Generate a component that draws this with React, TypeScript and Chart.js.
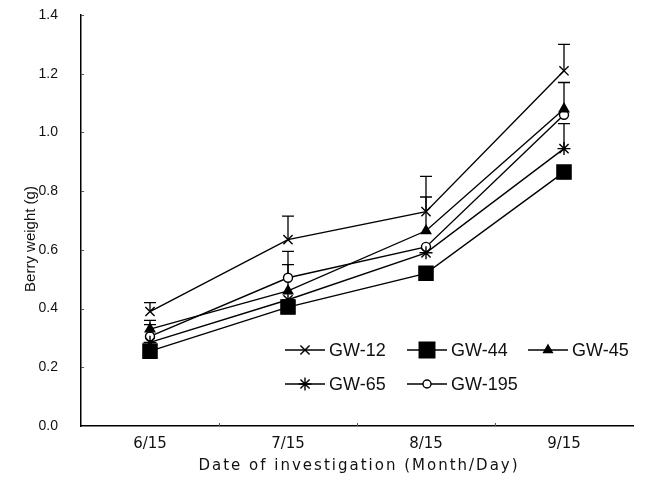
import React, { useEffect, useRef } from 'react';
import { Chart, registerables } from 'chart.js';
import { drawPoint } from 'chart.js/helpers';

Chart.register(...registerables);

// ---- data ----
const dates = ['6/15', '7/15', '8/15', '9/15'];
const seriesNames = ['GW-12', 'GW-44', 'GW-45', 'GW-65', 'GW-195'];

const gw12 = [0.39, 0.635, 0.73, 1.21];
const gw44 = [0.255, 0.405, 0.52, 0.865];
const gw45 = [0.33, 0.46, 0.665, 1.08];
const gw65 = [0.285, 0.43, 0.59, 0.945];
const gw195 = [0.305, 0.505, 0.61, 1.06];

// upper error bars (SE)
const gw12Err = [0.03, 0.08, 0.12, 0.09];
const gw44Err = [0, 0, 0, 0];
const gw45Err = [0.03, 0.09, 0.115, 0.09];
const gw65Err = [0, 0, 0, 0.085];
const gw195Err = [0.04, 0.09, 0, 0];

const yMin = 0;
const yMax = 1.4;
const yStep = 0.2;

const yTitle = 'Berry weight (g)';
const xTitle = 'Date of investigation (Month/Day)';

const seriesValues = [gw12, gw44, gw45, gw65, gw195];
const seriesErrors = [gw12Err, gw44Err, gw45Err, gw65Err, gw195Err];

// marker styles (presentation)
const markerStyles = [
  { pointStyle: 'crossRot', radius: 6.5, fill: '#000', legendRadius: 6.5 },
  { pointStyle: 'rect', radius: 10, fill: '#000', legendRadius: 11 },
  { pointStyle: 'triangle', radius: 5.5, fill: '#000', legendRadius: 5 },
  { pointStyle: 'star', radius: 6.5, fill: '#000', legendRadius: 6.5 },
  { pointStyle: 'circle', radius: 4.5, fill: '#fff', legendRadius: 4 },
];

const errorBarPlugin = {
  id: 'errorBars',
  beforeDatasetsDraw(chart: any) {
    const { ctx, scales } = chart;
    const x = scales.x;
    const y = scales.y;
    ctx.save();
    ctx.strokeStyle = '#000';
    ctx.lineWidth = 1.3;
    seriesErrors.forEach((errs, di) => {
      const vals = seriesValues[di];
      errs.forEach((e, i) => {
        if (!e) return;
        const px = x.getPixelForValue(i);
        const y0 = y.getPixelForValue(vals[i]);
        const y1 = y.getPixelForValue(vals[i] + e);
        ctx.beginPath();
        ctx.moveTo(px, y0);
        ctx.lineTo(px, y1);
        ctx.moveTo(px - 6, y1);
        ctx.lineTo(px + 6, y1);
        ctx.stroke();
      });
    });
    ctx.restore();
  },
};

const decorPlugin = {
  id: 'decor',
  afterDraw(chart: any) {
    const { ctx, chartArea, scales } = chart;
    const y = scales.y;
    const x = scales.x;
    ctx.save();
    // inward minor tick marks on y axis
    ctx.strokeStyle = '#555';
    ctx.lineWidth = 1;
    for (let v = yMin + yStep; v <= yMax + 1e-9; v += yStep) {
      const py = Math.round(y.getPixelForValue(v)) + 0.5;
      ctx.beginPath();
      ctx.moveTo(chartArea.left, py);
      ctx.lineTo(chartArea.left + 3, py);
      ctx.stroke();
    }
    // inward tick marks at category boundaries on x axis
    for (let i = 1; i < dates.length; i++) {
      const px = Math.round((x.getPixelForValue(i - 1) + x.getPixelForValue(i)) / 2) + 0.5;
      ctx.beginPath();
      ctx.moveTo(px, chartArea.bottom);
      ctx.lineTo(px, chartArea.bottom - 3);
      ctx.stroke();
    }

    // y axis title
    ctx.fillStyle = '#111';
    ctx.font = '15px "Liberation Sans", Arial, sans-serif';
    ctx.textAlign = 'center';
    ctx.textBaseline = 'middle';
    ctx.save();
    ctx.translate(31, 239);
    ctx.rotate(-Math.PI / 2);
    ctx.fillText(yTitle, 0, 0);
    ctx.restore();

    // x axis title (letter spaced)
    ctx.font = '15px "DejaVu Sans", sans-serif';
    (ctx as any).letterSpacing = '2px';
    ctx.textAlign = 'center';
    ctx.fillText(xTitle, 359, 466);
    (ctx as any).letterSpacing = '0px';

    // legend
    const slots = [
      { x: 285, y: 350 },
      { x: 407, y: 350 },
      { x: 528, y: 350 },
      { x: 285, y: 384 },
      { x: 407, y: 384 },
    ];
    ctx.font = '18px "Liberation Sans", Arial, sans-serif';
    ctx.textAlign = 'left';
    ctx.textBaseline = 'middle';
    seriesNames.forEach((name, i) => {
      const s = slots[i];
      const m = markerStyles[i];
      ctx.strokeStyle = '#000';
      ctx.lineWidth = 1.4;
      ctx.beginPath();
      ctx.moveTo(s.x, s.y);
      ctx.lineTo(s.x + 40, s.y);
      ctx.stroke();
      ctx.fillStyle = m.fill;
      ctx.strokeStyle = '#000';
      ctx.lineWidth = 1.4;
      drawPoint(ctx, { pointStyle: m.pointStyle as any, radius: m.legendRadius, rotation: 0, borderWidth: 1.4 }, s.x + 20, s.y);
      ctx.fillStyle = '#111';
      ctx.fillText(name, s.x + 44, s.y + 1);
    });
    ctx.restore();
  },
};

export default function App() {
  const ref = useRef<HTMLCanvasElement>(null);
  useEffect(() => {
    if (!ref.current) return;
    const datasets = seriesNames.map((name, i) => ({
      label: name,
      data: seriesValues[i],
      borderColor: '#000',
      borderWidth: 1.4,
      backgroundColor: markerStyles[i].fill,
      pointStyle: markerStyles[i].pointStyle as any,
      pointRadius: markerStyles[i].radius,
      pointBackgroundColor: markerStyles[i].fill,
      pointBorderColor: '#000',
      pointBorderWidth: 1.4,
      tension: 0,
      fill: false,
    }));
    const chart = new Chart(ref.current, {
      type: 'line',
      data: { labels: dates, datasets },
      options: {
        responsive: false,
        animation: false,
        events: [],
        layout: { autoPadding: false, padding: { left: 0, right: 15, top: 15, bottom: 0 } },
        plugins: { legend: { display: false }, tooltip: { enabled: false } },
        scales: {
          x: {
            type: 'category',
            offset: true,
            grid: { display: false, drawTicks: false },
            border: { display: true, color: '#000', width: 1.5 },
            ticks: {
              color: '#111',
              padding: 9,
              font: { family: '"DejaVu Sans", sans-serif', size: 15 },
              maxRotation: 0,
              autoSkip: false,
            },
            afterFit(scale: any) {
              scale.height = 486 - 426;
            },
          },
          y: {
            min: yMin,
            max: yMax,
            grid: { display: false, drawTicks: false },
            border: { display: true, color: '#000', width: 1.5 },
            ticks: {
              stepSize: yStep,
              color: '#111',
              padding: 23,
              font: { family: '"Liberation Sans", Arial, sans-serif', size: 14 },
              callback: (v: any) => Number(v).toFixed(1),
            },
            afterFit(scale: any) {
              scale.width = 81;
              scale.paddingTop = 0;
              scale.paddingBottom = 0;
            },
          },
        },
      },
      plugins: [errorBarPlugin, decorPlugin],
    });
    return () => chart.destroy();
  }, []);
  return (
    <div style={{ position: 'fixed', left: 0, top: 0, width: 648, height: 486, background: '#fff' }}>
      <canvas ref={ref} width={648} height={486} style={{ display: 'block', width: 648, height: 486 }} />
    </div>
  );
}
